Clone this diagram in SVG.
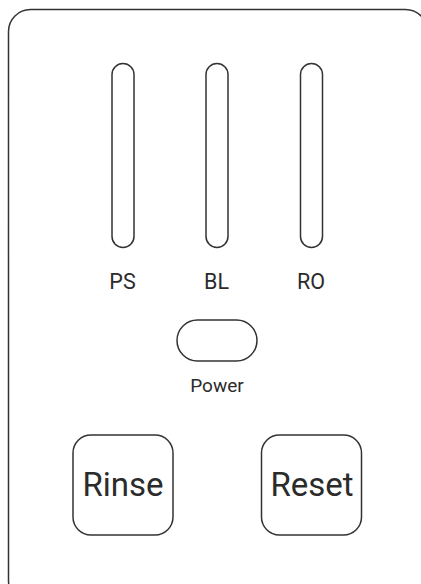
<svg xmlns="http://www.w3.org/2000/svg" width="421" height="584" viewBox="0 0 421 584">
<style>
.s{fill:#fff;stroke:#333;stroke-width:1.5}
.t{font-family:Roboto,"Liberation Sans",sans-serif;fill:#2b2b2b;text-anchor:middle}
</style>
<rect width="421" height="584" fill="#fff"/>
<g id="panel"><rect class="s" x="8.5" y="9.5" width="419" height="593" rx="22"/></g>
<g id="ps"><rect class="s" x="112" y="63.5" width="22" height="184" rx="11"/><text class="t" x="122.5" y="288.5" font-size="21.5">PS</text></g>
<g id="bl"><rect class="s" x="206" y="63.5" width="22" height="184" rx="11"/><text class="t" x="216.5" y="288.5" font-size="21.5">BL</text></g>
<g id="ro"><rect class="s" x="300.5" y="63.5" width="22" height="184" rx="11"/><text class="t" x="311" y="288.5" font-size="21.5">RO</text></g>
<g id="power"><rect class="s" x="177" y="320" width="80" height="41" rx="20.5"/><text class="t" x="217" y="392" font-size="19">Power</text></g>
<g id="rinse"><rect class="s" x="73" y="435" width="100" height="100" rx="18"/><text class="t" x="123" y="496" font-size="33">Rinse</text></g>
<g id="reset"><rect class="s" x="261.5" y="435" width="100" height="100" rx="18"/><text class="t" x="312" y="496" font-size="33">Reset</text></g>
<g id="connectors"/>
</svg>
